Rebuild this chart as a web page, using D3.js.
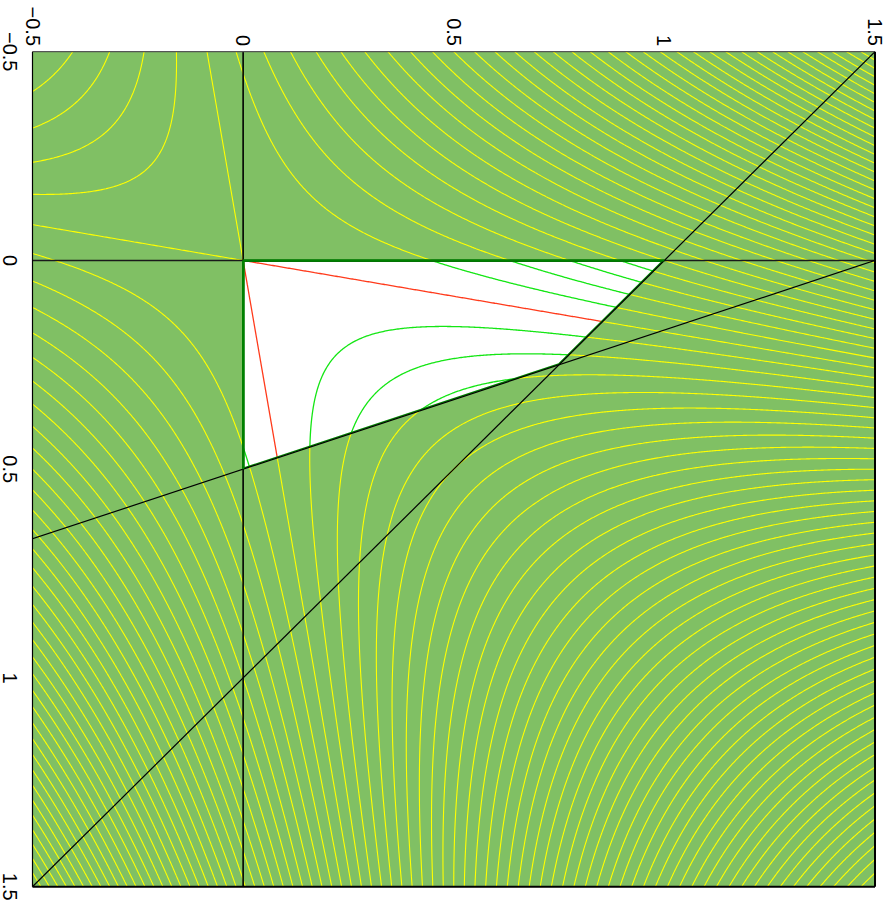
<!DOCTYPE html>
<html>
<head>
<meta charset="utf-8">
<script src="https://cdn.jsdelivr.net/npm/d3@7"></script>
<style>
  html, body { margin: 0; padding: 0; background: #ffffff; }
  svg { display: block; }
  text { font-family: "Liberation Sans", Arial, Helvetica, sans-serif; }
</style>
</head>
<body>
<svg id="chart" width="890" height="904"></svg>
<script>
// ---- Axes -------------------------------------------------------------
const domainH = [-0.5, 1.5];
const domainV = [-0.5, 1.5];
const hTicks = [-0.5, 0, 0.5, 1, 1.5];
const vTicks = [-0.5, 0, 0.5, 1, 1.5];
const hTickLabels = ["\u22120.5", "0", "0.5", "1", "1.5"];
const vTickLabels = ["\u22120.5", "0", "0.5", "1", "1.5"];

// ---- Objective q(h, v) = a*h^2 + b*h*v + c*v^2 --------------------------
const quadCoeffs = [1, -6, 1];
// Contour levels of the objective
const levelMin = -9, levelMax = 7, levelStep = 0.2;

// ---- Linear constraints  a*h + b*v <= rhs -------------------------------
const constraintRows = [[1, 1], [1, 3]];
const constraintRhs = [1, 1.5];
// Feasible polygon (h >= 0, v >= 0 and the two constraints)
const feasibleH = [0, 1, 0.75, 0];
const feasibleV = [0, 0, 0.25, 0.5];

// ---- Colours ------------------------------------------------------------
const COL_BG = "#80c064";
const COL_OUT = "#ffff00";
const COL_IN = "#14e614";
const COL_ZERO = "#ff3b1c";
const COL_EDGE = "#008000";

const svg = d3.select("#chart");
const x = d3.scaleLinear(domainH, [32.5, 875]);
const y = d3.scaleLinear(domainV, [51.7, 886.7]);

const q = (h, v) => quadCoeffs[0] * h * h + quadCoeffs[1] * h * v + quadCoeffs[2] * v * v;

const defs = svg.append("defs");
defs.append("clipPath").attr("id", "plotClip")
  .append("rect")
  .attr("x", x(domainH[0])).attr("y", y(domainV[0]))
  .attr("width", x(domainH[1]) - x(domainH[0]))
  .attr("height", y(domainV[1]) - y(domainV[0]));

const feasPts = feasibleH.map((h, i) => [x(h), y(feasibleV[i])]);
defs.append("clipPath").attr("id", "feasClip")
  .append("polygon").attr("points", feasPts.map(p => p.join(",")).join(" "));

// background
svg.append("rect")
  .attr("x", x(domainH[0])).attr("y", y(domainV[0]))
  .attr("width", x(domainH[1]) - x(domainH[0]))
  .attr("height", y(domainV[1]) - y(domainV[0]))
  .attr("fill", COL_BG);

// ---- Contour grid --------------------------------------------------------
const N = 640;
const pad = 0.02;
const h0 = domainH[0] - pad, h1 = domainH[1] + pad;
const v0 = domainV[0] - pad, v1 = domainV[1] + pad;
const dh = (h1 - h0) / (N - 1), dv = (v1 - v0) / (N - 1);
const grid = new Float64Array(N * N);
for (let j = 0; j < N; j++) {
  const v = v0 + j * dv;
  for (let i = 0; i < N; i++) grid[i + j * N] = q(h0 + i * dh, v);
}
const levelCount = Math.round((levelMax - levelMin) / levelStep) + 1;
const levels = d3.range(levelCount).map(k => +(levelMin + k * levelStep).toFixed(6));
const contours = d3.contours().size([N, N]).thresholds(levels)(grid);

function ringPath(ring) {
  return "M" + ring.map(p => {
    const px = x(h0 + (p[0] - 0.5) * dh);
    const py = y(v0 + (p[1] - 0.5) * dv);
    return px.toFixed(2) + "," + py.toFixed(2);
  }).join("L") + "Z";
}
function contourPath(c) {
  return c.coordinates.map(poly => poly.map(ringPath).join("")).join("");
}

// contours outside the feasible set
svg.append("g").attr("clip-path", "url(#plotClip)")
  .selectAll("path").data(contours).join("path")
  .attr("d", contourPath)
  .attr("fill", "none")
  .attr("stroke", COL_OUT)
  .attr("stroke-width", 1.1);

// feasible set
svg.append("polygon")
  .attr("points", feasPts.map(p => p.join(",")).join(" "))
  .attr("fill", "#ffffff");

// contours inside the feasible set
const inner = svg.append("g").attr("clip-path", "url(#feasClip)");
inner.selectAll("path.lvl").data(contours.filter(c => Math.abs(c.value) > 1e-9)).join("path")
  .attr("class", "lvl")
  .attr("d", contourPath)
  .attr("fill", "none")
  .attr("stroke", COL_IN)
  .attr("stroke-width", 1.3);
inner.selectAll("path.zero").data(contours.filter(c => Math.abs(c.value) <= 1e-9)).join("path")
  .attr("class", "zero")
  .attr("d", contourPath)
  .attr("fill", "none")
  .attr("stroke", COL_ZERO)
  .attr("stroke-width", 1.3);

// inner edge of the feasible set
inner.append("polygon")
  .attr("points", feasPts.map(p => p.join(",")).join(" "))
  .attr("fill", "none")
  .attr("stroke", COL_EDGE)
  .attr("stroke-width", 3.2);

// ---- Constraint lines ----------------------------------------------------
const lines = svg.append("g").attr("clip-path", "url(#plotClip)");
// coordinate axes h = 0 and v = 0
lines.append("line")
  .attr("x1", x(0)).attr("x2", x(0))
  .attr("y1", y(domainV[0])).attr("y2", y(domainV[1]))
  .attr("stroke", "#000").attr("stroke-width", 1.6);
lines.append("line")
  .attr("x1", x(domainH[0])).attr("x2", x(domainH[1]))
  .attr("y1", y(0)).attr("y2", y(0))
  .attr("stroke", "#1a1a1a").attr("stroke-width", 1.6);
// a*h + b*v = rhs
constraintRows.forEach((row, k) => {
  const [a, b] = row;
  const hA = domainH[0] - 1, hB = domainH[1] + 1;
  lines.append("line")
    .attr("x1", x(hA)).attr("y1", y((constraintRhs[k] - a * hA) / b))
    .attr("x2", x(hB)).attr("y2", y((constraintRhs[k] - a * hB) / b))
    .attr("stroke", "#000").attr("stroke-width", 1.2);
});

// feasible edges on the coordinate axes
svg.append("line")
  .attr("x1", x(feasibleH[0])).attr("y1", y(feasibleV[0]))
  .attr("x2", x(feasibleH[1])).attr("y2", y(feasibleV[1]))
  .attr("stroke", COL_EDGE).attr("stroke-width", 2.2);
svg.append("line")
  .attr("x1", x(feasibleH[3])).attr("y1", y(feasibleV[3]))
  .attr("x2", x(feasibleH[0])).attr("y2", y(feasibleV[0]))
  .attr("stroke", COL_EDGE).attr("stroke-width", 2.2);

// ---- Frame ---------------------------------------------------------------
const fx0 = x(domainH[0]), fx1 = x(domainH[1]), fy0 = y(domainV[0]), fy1 = y(domainV[1]);
svg.append("line").attr("x1", fx0).attr("x2", fx1).attr("y1", fy0).attr("y2", fy0)
  .attr("stroke", "#555").attr("stroke-width", 1.2);
svg.append("line").attr("x1", fx0).attr("x2", fx0).attr("y1", fy0).attr("y2", fy1)
  .attr("stroke", "#000").attr("stroke-width", 1.2);
svg.append("line").attr("x1", fx1).attr("x2", fx1).attr("y1", fy0).attr("y2", fy1)
  .attr("stroke", "#000").attr("stroke-width", 2);
svg.append("line").attr("x1", fx0).attr("x2", fx1).attr("y1", fy1).attr("y2", fy1)
  .attr("stroke", "#000").attr("stroke-width", 2);

// ---- Tick labels (rotated) ------------------------------------------------
const FS = 20;
svg.append("g").selectAll("text").data(hTicks).join("text")
  .attr("transform", d => `translate(${x(d)},46) rotate(90)`)
  .attr("text-anchor", "end")
  .attr("dy", "0.35em")
  .attr("font-size", FS)
  .attr("fill", "#000")
  .text((d, i) => hTickLabels[i]);

svg.append("g").selectAll("text").data(vTicks).join("text")
  .attr("transform", d => `translate(3,${y(d)}) rotate(90)`)
  .attr("text-anchor", "middle")
  .attr("font-size", FS)
  .attr("fill", "#000")
  .text((d, i) => vTickLabels[i]);
</script>
</body>
</html>
